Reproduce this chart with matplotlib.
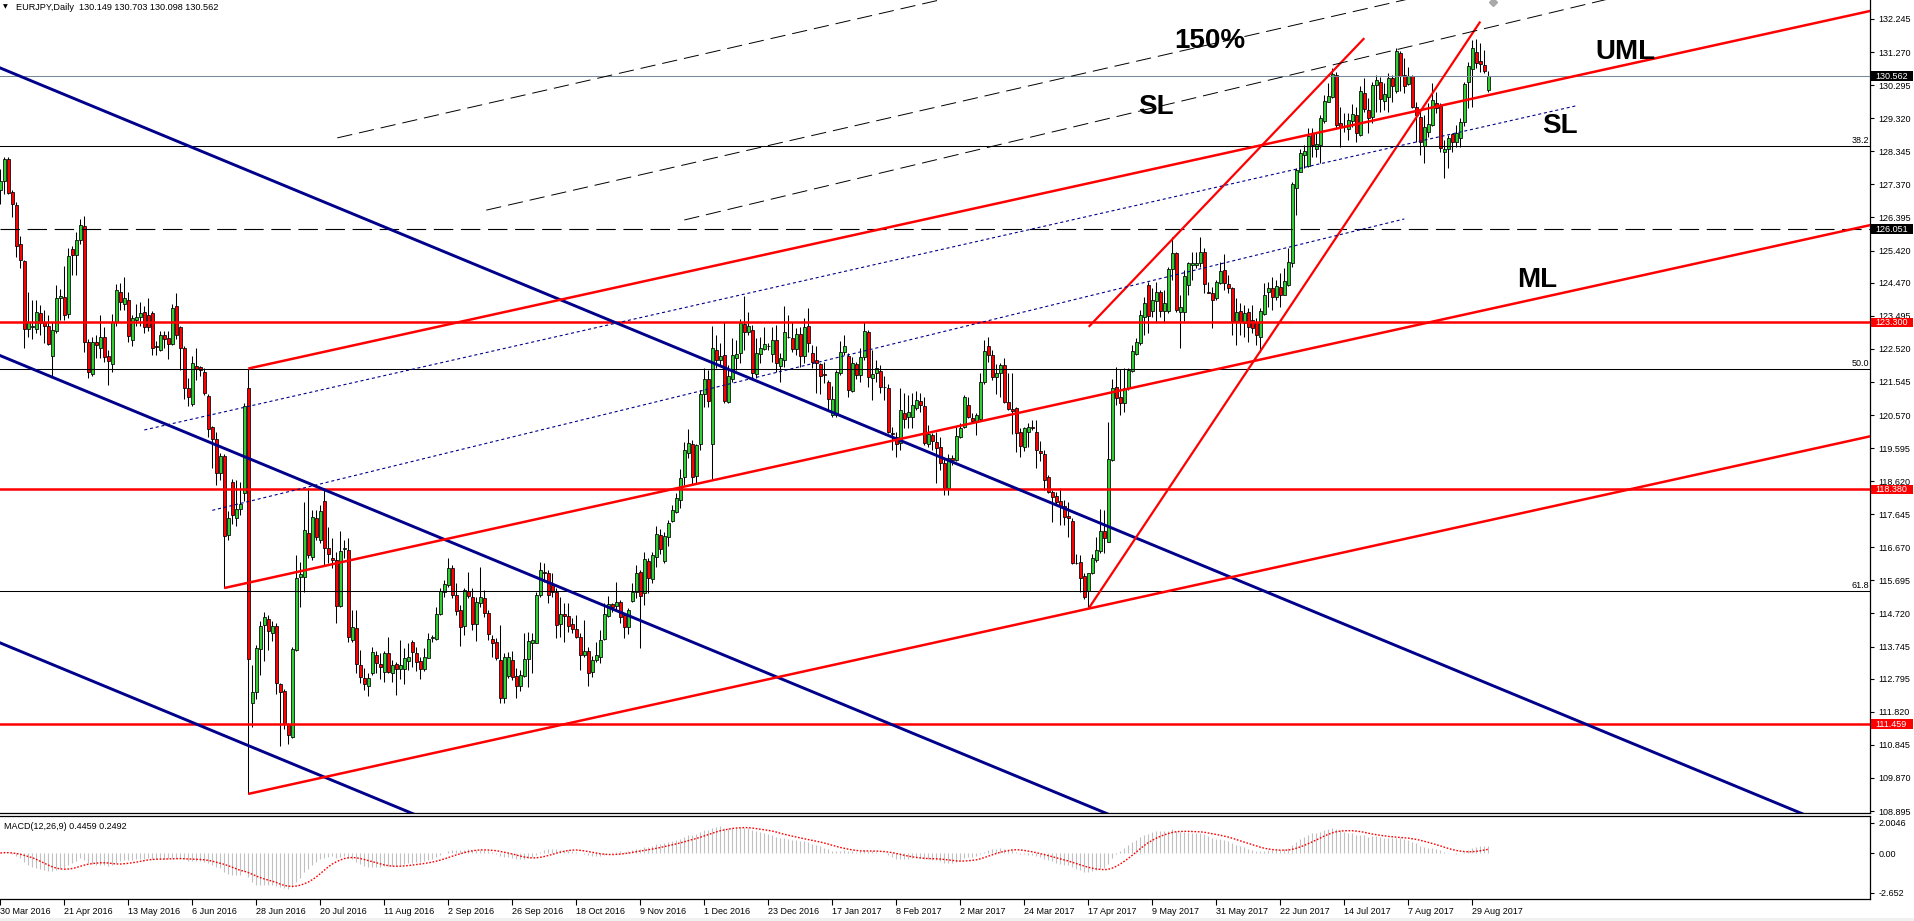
import numpy as np
import matplotlib
matplotlib.use("Agg")
import matplotlib.pyplot as plt
from matplotlib.transforms import blended_transform_factory
from matplotlib.patches import Rectangle

plt.rcParams['font.family'] = ['Liberation Sans', 'DejaVu Sans']
plt.rcParams['lines.scale_dashes'] = False

symbol_title = "EURJPY,Daily  130.149 130.703 130.098 130.562"
macd_title = "MACD(12,26,9) 0.4459 0.2492"

date_labels = ["30 Mar 2016", "21 Apr 2016", "13 May 2016", "6 Jun 2016", "28 Jun 2016",
               "20 Jul 2016", "11 Aug 2016", "2 Sep 2016", "26 Sep 2016", "18 Oct 2016",
               "9 Nov 2016", "1 Dec 2016", "23 Dec 2016", "17 Jan 2017", "8 Feb 2017",
               "2 Mar 2017", "24 Mar 2017", "17 Apr 2017", "9 May 2017", "31 May 2017",
               "22 Jun 2017", "14 Jul 2017", "7 Aug 2017", "29 Aug 2017"]

opens = [
    127.21,127.46,128.13,127.15,126.76,125.60,125.11,123.11,123.15,123.11,
    123.57,123.30,123.18,122.32,123.05,124.03,124.06,123.54,125.47,125.28,
    125.74,126.15,122.72,121.77,122.72,122.56,122.88,122.32,122.07,123.30,
    124.19,123.85,123.95,122.77,123.38,123.45,123.60,123.52,123.57,122.60,
    122.50,122.93,122.85,122.66,123.79,123.15,122.56,121.38,120.89,122.01,
    121.98,121.83,121.12,120.21,119.85,118.87,119.36,117.03,118.59,117.52,
    117.79,118.28,121.37,112.07,112.39,113.66,114.37,114.55,114.15,114.34,
    112.63,112.44,111.46,111.09,113.63,115.80,115.80,117.08,116.39,117.52,
    116.90,118.03,116.64,116.34,116.31,114.95,116.61,116.59,113.94,114.28,
    113.20,112.83,112.58,112.95,113.49,113.22,112.98,113.54,112.95,113.22,
    113.08,113.07,113.33,113.87,113.54,113.33,113.08,113.42,113.99,113.97,
    114.70,115.36,115.56,116.07,115.26,114.82,114.35,115.38,115.21,114.41,
    115.04,115.17,114.74,113.97,113.88,113.35,112.24,112.88,113.35,112.88,
    112.59,112.88,113.37,113.84,113.86,115.26,115.93,115.90,115.56,115.36,
    114.40,114.70,114.64,114.40,114.25,114.02,113.49,113.61,112.98,113.35,
    113.45,113.96,114.65,114.99,114.94,115.07,114.67,114.33,115.09,115.36,
    115.95,115.31,116.27,115.73,116.37,117.03,116.28,116.96,117.46,117.72,
    118.05,118.75,119.46,119.73,118.77,119.71,121.18,121.63,119.71,122.49,
    122.19,122.34,120.96,121.62,122.24,122.39,123.25,123.03,123.08,121.78,
    122.36,122.51,122.61,122.36,122.78,122.02,122.19,122.86,122.83,122.51,
    122.95,122.31,123.19,122.39,122.19,122.07,121.77,121.55,120.57,120.57,
    121.80,122.42,122.32,121.28,122.06,121.75,122.29,123.01,121.65,121.80,
    121.88,121.41,121.36,120.03,119.93,119.74,120.62,120.52,120.50,120.79,
    120.98,120.84,119.72,119.98,119.77,119.64,119.17,118.41,119.29,119.24,
    119.93,120.23,120.87,120.49,120.37,120.44,121.55,122.60,122.34,121.68,
    121.80,122.04,120.96,120.75,120.77,120.06,119.64,120.08,120.21,120.08,
    119.52,119.42,118.75,118.31,118.18,118.04,117.89,117.59,117.46,116.22,
    116.23,115.81,115.39,115.90,116.30,116.57,117.16,116.84,119.24,121.39,
    121.09,120.93,121.36,121.88,122.37,122.68,123.47,124.40,123.65,123.93,
    124.21,123.65,123.65,124.87,125.34,123.62,123.62,124.40,124.99,124.98,
    125.04,125.39,124.21,124.18,124.01,124.47,124.85,124.43,124.30,123.35,
    123.65,123.27,123.62,123.37,123.32,122.86,123.55,124.21,124.30,124.04,
    124.35,124.11,124.40,125.04,127.27,127.74,128.24,127.92,128.87,128.41,
    128.53,129.25,129.81,129.94,130.58,129.17,129.07,128.99,129.25,129.41,
    128.82,130.07,129.56,129.35,130.30,130.40,129.84,129.95,130.52,130.13,
    131.25,130.59,130.33,130.56,129.66,129.37,128.50,128.92,129.12,129.78,
    129.68,128.33,128.41,128.84,128.63,128.73,129.22,130.40,130.76,131.28,
    131.01,130.89,130.149]

highs = [
    127.82,128.19,128.17,127.21,126.85,125.84,125.13,124.21,123.97,123.97,
    123.81,123.67,123.52,123.30,124.40,124.28,124.95,125.50,125.56,125.96,
    126.36,126.45,122.80,122.87,122.93,123.52,123.15,122.50,123.54,124.44,
    124.46,124.64,124.21,123.52,123.85,123.91,123.79,124.03,123.64,122.75,
    123.05,123.05,123.05,123.85,124.18,123.20,122.60,121.65,122.32,122.56,
    122.01,121.95,121.19,120.26,120.06,119.44,119.41,117.73,118.67,118.65,
    118.59,120.91,121.94,113.21,113.78,114.49,114.76,114.67,114.49,114.43,
    112.66,112.50,111.50,113.73,116.45,116.25,118.02,118.41,117.77,117.77,
    117.92,118.41,117.26,116.95,116.54,117.16,116.88,116.93,114.82,114.82,
    113.64,113.10,112.95,113.74,113.62,113.54,113.62,114.04,113.35,113.30,
    113.94,113.69,113.84,113.94,113.74,113.43,113.69,114.13,114.08,114.92,
    115.46,115.71,116.34,116.15,115.61,114.97,115.46,115.93,115.46,115.21,
    116.08,115.41,114.82,114.08,114.01,114.38,113.54,113.59,113.62,113.10,
    113.05,114.15,114.18,114.13,115.36,116.25,116.22,116.00,115.90,115.46,
    115.21,115.02,115.02,114.58,114.67,114.13,114.53,113.72,113.46,113.89,
    114.23,115.02,115.22,115.04,115.66,115.11,114.72,114.87,115.61,116.15,
    116.00,116.54,116.35,116.54,117.31,117.20,117.13,117.48,117.92,118.26,
    118.97,119.78,120.16,119.83,119.73,121.31,121.95,121.90,123.19,122.93,
    122.68,123.32,122.05,122.83,122.78,123.40,124.08,123.62,123.22,122.83,
    122.86,123.17,122.68,123.17,123.22,122.39,123.78,123.52,123.32,123.13,
    123.17,123.42,123.72,122.63,122.59,122.09,122.14,121.60,121.42,121.90,
    122.76,122.93,122.39,122.29,122.14,122.54,123.32,123.08,122.49,122.19,
    122.03,121.72,121.48,120.21,120.08,121.36,121.21,121.16,121.21,121.28,
    121.21,121.11,120.28,120.03,120.08,119.93,119.26,119.42,119.39,120.25,
    120.33,121.16,121.11,120.62,120.62,121.80,122.78,122.88,122.49,122.06,
    122.11,122.26,121.82,121.80,120.82,120.18,120.23,120.33,120.42,120.42,
    119.79,119.54,118.80,118.36,118.31,118.41,118.06,118.02,117.52,116.47,
    116.44,115.90,115.92,116.47,116.98,117.79,117.77,120.37,121.63,121.99,
    121.92,121.95,121.95,122.63,122.83,123.67,124.06,124.50,124.30,124.50,
    124.26,124.26,124.94,125.81,125.39,124.11,124.85,125.09,125.39,125.39,
    125.83,125.48,124.50,124.35,124.55,125.09,125.32,124.70,124.33,124.01,
    123.86,123.81,123.72,123.81,123.42,123.72,124.47,124.50,124.65,124.55,
    124.75,124.89,125.48,127.45,127.84,128.40,128.53,129.02,129.02,128.87,
    129.41,130.00,130.35,130.79,130.69,129.64,129.46,129.46,129.74,129.66,
    130.27,130.50,129.91,130.40,130.59,130.54,130.35,130.64,130.59,131.40,
    131.31,131.09,130.84,130.59,129.81,129.56,129.41,129.76,130.37,130.10,
    129.76,128.68,128.82,128.87,129.12,129.32,130.40,130.99,131.63,131.65,
    131.55,131.33,130.703]

lows = [
    126.78,127.09,127.09,126.42,125.23,124.89,122.54,122.87,122.81,122.99,
    122.93,122.69,122.63,121.71,122.99,123.36,123.36,123.42,124.70,124.69,
    125.60,122.44,121.65,121.71,122.26,122.26,122.14,121.46,121.83,123.20,
    123.67,123.67,122.72,122.60,123.18,123.18,122.99,123.05,122.34,122.34,
    122.47,122.56,122.22,122.63,122.81,121.89,121.03,120.85,120.85,121.61,
    121.71,121.16,119.93,119.02,118.50,118.65,115.47,116.88,117.37,117.30,
    117.61,118.04,109.40,111.37,112.20,112.90,113.33,113.63,113.90,112.35,
    110.82,111.31,110.88,111.04,113.60,114.92,115.36,116.34,116.30,116.88,
    116.79,116.15,116.20,116.05,114.43,114.92,116.34,113.89,113.89,112.95,
    112.66,112.46,112.30,112.92,112.95,112.78,112.69,112.95,112.69,112.32,
    112.79,112.63,113.05,113.15,113.03,112.79,113.03,113.40,113.89,113.94,
    114.67,115.21,115.51,115.17,114.67,113.77,114.08,115.17,114.23,113.91,
    114.92,114.62,113.94,113.45,113.35,112.07,112.07,112.81,112.76,112.22,
    112.44,112.84,112.56,112.95,113.84,115.21,115.66,115.02,115.21,113.99,
    114.04,113.89,114.18,114.15,113.99,113.05,113.45,112.59,112.84,113.30,
    113.25,113.94,114.63,114.77,114.82,114.43,113.99,114.11,115.07,115.17,
    113.69,114.97,115.31,115.61,116.10,116.47,116.22,116.71,117.43,117.67,
    117.82,118.51,119.29,118.51,118.56,119.54,120.82,120.82,118.65,121.95,
    122.05,120.91,120.93,121.55,121.90,122.09,122.49,122.93,121.65,121.65,
    122.09,122.49,122.49,122.14,121.85,121.55,121.99,122.83,122.44,122.34,
    121.99,122.09,122.44,121.95,121.21,121.19,121.50,120.72,120.52,120.52,
    121.75,122.34,121.11,121.26,121.62,121.55,122.19,121.41,121.01,121.55,
    121.21,121.01,120.03,119.54,119.34,119.54,120.18,120.18,120.18,120.72,
    120.67,119.69,119.64,119.54,118.58,118.95,118.21,118.21,119.10,119.20,
    119.88,120.18,120.47,120.35,119.98,120.42,121.48,122.14,121.60,121.18,
    121.11,120.92,120.72,120.00,119.49,119.32,119.52,119.64,120.13,119.00,
    119.22,118.36,118.26,117.41,117.92,117.33,117.33,116.98,116.18,116.18,
    115.36,115.14,114.87,115.88,116.25,116.49,116.49,116.84,119.20,120.87,
    120.57,120.67,121.31,121.85,122.34,122.63,122.93,122.98,123.47,123.32,
    123.47,123.32,123.59,124.55,123.62,122.54,123.34,124.11,124.55,124.89,
    124.94,124.16,124.16,123.13,123.96,124.43,124.26,124.16,122.93,122.63,
    122.93,122.88,122.73,122.98,122.63,122.44,123.52,123.76,123.67,123.96,
    123.76,124.11,124.37,124.94,126.47,127.74,127.84,127.89,128.19,128.19,
    128.00,129.17,129.81,129.91,129.02,128.48,128.92,128.68,129.07,128.63,
    128.79,129.51,128.87,129.19,129.51,129.51,129.56,129.51,129.81,130.07,
    130.13,130.05,130.30,129.61,128.63,128.24,128.01,128.78,129.09,129.46,
    128.33,127.55,127.84,128.33,128.48,128.48,129.09,129.61,129.66,130.79,
    130.69,130.64,130.098]

closes = [
    127.46,128.13,127.11,126.78,125.56,125.13,123.11,123.30,123.20,123.60,
    123.27,123.18,122.65,123.09,124.01,124.08,123.52,125.26,125.28,125.74,
    126.17,122.72,121.83,122.72,122.63,122.87,122.29,122.17,123.30,124.25,
    123.89,124.01,122.89,123.42,123.45,123.59,123.15,123.15,122.54,122.58,
    122.93,122.81,122.66,123.73,122.93,122.54,121.38,121.10,122.11,121.93,
    121.89,121.22,120.15,119.87,118.87,119.36,117.00,117.52,117.61,117.79,
    117.95,120.85,113.39,112.39,113.70,114.34,114.61,114.19,114.34,112.68,
    112.41,111.46,111.13,113.66,115.77,115.87,117.18,116.44,117.55,116.96,
    117.74,116.64,116.46,116.31,114.94,116.56,116.64,114.04,114.31,113.22,
    112.86,112.63,112.83,113.58,113.25,113.15,113.54,112.98,113.20,113.08,
    113.20,113.40,113.44,113.57,113.30,113.08,113.43,113.96,114.02,114.70,
    115.39,115.59,116.07,115.26,114.80,114.33,115.41,115.24,114.40,115.07,
    115.21,114.74,114.10,113.86,113.40,112.24,113.44,113.44,112.84,112.59,
    112.92,113.38,113.91,113.94,115.26,116.00,115.90,115.26,115.36,114.38,
    114.70,114.64,114.35,114.25,114.04,113.49,113.61,112.95,113.35,113.49,
    113.94,114.69,114.99,114.92,115.07,114.63,114.33,114.82,115.36,115.90,
    115.24,116.32,115.76,116.44,117.05,116.61,117.01,117.38,117.77,118.11,
    118.70,119.54,119.75,118.75,119.69,121.18,121.63,120.99,122.54,122.19,
    122.31,120.99,121.72,122.34,122.37,123.27,123.03,123.19,121.80,122.41,
    122.54,122.65,122.59,122.78,122.09,122.24,123.01,122.88,122.51,122.95,
    122.31,123.15,122.68,122.14,122.09,121.72,121.74,121.03,121.03,121.85,
    122.44,122.59,121.31,122.11,121.75,122.29,123.06,121.68,121.78,121.95,
    121.41,121.39,120.08,120.00,119.72,120.72,120.44,120.67,120.87,121.01,
    120.87,119.74,120.01,119.79,119.59,119.15,118.41,119.29,119.24,119.95,
    120.18,121.11,120.52,120.40,120.57,121.54,122.46,122.34,121.70,121.80,
    122.04,120.96,120.74,120.69,120.05,119.66,120.18,120.23,120.18,119.54,
    119.44,118.64,118.31,118.16,118.02,117.89,117.57,117.52,116.22,116.20,
    115.76,115.20,115.90,116.35,116.59,117.16,116.94,119.26,121.36,121.06,
    120.92,121.36,121.90,122.47,122.73,123.52,123.88,123.49,123.96,124.19,
    123.65,123.88,124.87,125.34,123.67,123.75,124.67,125.04,125.04,125.06,
    125.39,124.43,124.18,123.96,124.50,124.83,124.47,124.30,123.35,123.60,
    123.32,123.57,123.17,123.13,122.93,123.64,124.11,124.30,124.06,124.37,
    124.11,124.53,125.07,127.37,127.79,128.30,128.35,128.79,128.53,128.56,
    129.32,129.84,129.97,130.62,129.12,129.05,129.05,129.27,129.44,128.89,
    130.13,129.58,129.32,130.30,130.45,129.88,130.02,130.52,130.27,131.31,
    130.56,130.27,130.56,129.66,129.41,128.63,129.07,129.15,129.86,129.63,
    128.43,128.41,128.75,128.63,128.87,129.22,130.32,130.86,131.38,130.96,
    130.92,130.72,130.562]

price_ticks = [132.245, 131.270, 130.295, 129.320, 128.345, 127.370, 126.395, 125.420,
               124.470, 123.495, 122.520, 121.545, 120.570, 119.595, 118.620, 117.645,
               116.670, 115.695, 114.720, 113.745, 112.795, 111.820, 110.845, 109.870, 108.895]
macd_ticks = [2.0046, 0.0, -2.652]
macd_tick_labels = ["2.0046", "0.00", "-2.652"]

current_price = 130.562
red_levels = [123.300, 118.380, 111.459]
dashed_level = 126.051
fib_levels = [128.50, 121.94, 115.37]
fib_names = ["38.2", "50.0", "61.8"]
price_boxes = [(130.562, "black"), (126.051, "black"), (123.300, "red"),
               (118.380, "red"), (111.459, "red")]

# drawn objects (bar index, price)
blue_channel_at0 = [130.80, 122.32, 113.85]
blue_channel_slope = -0.0488
red_fork_anchors = [(62, 121.94), (56, 115.47), (62, 109.40)]
red_fork_slope = 0.0260
steep_lines = [((272.1, 123.17), (341.0, 131.68)), ((272.1, 114.87), (370.0, 132.17))]
dotted_blue = [((36, 120.13), (393.75, 129.68)), ((53, 117.76), (351, 126.35))]
dashed_black = [((84.25, 128.74), 0.0270), ((121.5, 126.61), 0.0270), ((171, 126.32), 0.0282)]
big_labels = ["150%", "SL", "UML", "SL", "ML"]
big_label_pos = [(302.5, 131.60), (289, 129.65), (406.25, 131.27), (390, 129.09), (384.25, 124.55)]

assert len(opens) == len(highs) == len(lows) == len(closes)

W, H = 1915, 921
fig = plt.figure(figsize=(W / 100, H / 100), dpi=100)
fig.patch.set_facecolor("white")

RED = "#FF0000"
GREEN = "#32CD32"
NAVY = "#00008B"
FS = 6.5

ax = fig.add_axes([0, (H - 813) / H, 1870 / W, 813 / H])
ax2 = fig.add_axes([0, (H - 899) / H, 1870 / W, 83 / H])

n = len(closes)
idx = np.arange(n)
o = np.array(opens); hi = np.array(highs); lo = np.array(lows); c = np.array(closes)
up = c >= o

ax.set_xlim(-0.075, 467.425)
ax.set_ylim(108.837, 132.805)

# candles
ax.vlines(idx, lo, hi, color="black", lw=0.75, zorder=2)
bb = np.minimum(o, c)
bh = np.maximum(np.abs(c - o), 0.015)
ax.bar(idx[up], bh[up], bottom=bb[up], width=0.72, color=GREEN, edgecolor="black",
       linewidth=0.55, zorder=3)
ax.bar(idx[~up], bh[~up], bottom=bb[~up], width=0.72, color=RED, edgecolor="black",
       linewidth=0.55, zorder=3)

X0, X1 = -5, 475
# horizontal levels
ax.axhline(current_price, color="#778899", lw=0.75, zorder=4)
for lv in fib_levels:
    ax.axhline(lv, color="black", lw=0.75, zorder=4)
ax.axhline(dashed_level, color="black", lw=0.8, ls=(0, (14, 5.5)), zorder=4)
for lv in red_levels:
    ax.axhline(lv, color=RED, lw=1.8, zorder=4)
for lv, name in zip(fib_levels, fib_names):
    ax.text(467.15, lv + 0.03, name, ha="right", va="bottom", fontsize=FS, zorder=6)

# blue channel
for p0 in blue_channel_at0:
    ax.plot([X0, X1], [p0 + blue_channel_slope * X0, p0 + blue_channel_slope * X1],
            color=NAVY, lw=2.1, solid_capstyle="butt", zorder=5)

# red pitchfork
for (i0, p0) in red_fork_anchors:
    ax.plot([i0, X1], [p0, p0 + red_fork_slope * (X1 - i0)], color=RED, lw=1.8,
            solid_capstyle="butt", zorder=5)

for (a, b) in steep_lines:
    ax.plot([a[0], b[0]], [a[1], b[1]], color=RED, lw=1.6, solid_capstyle="butt", zorder=5)

for (a, b) in dotted_blue:
    ax.plot([a[0], b[0]], [a[1], b[1]], color=NAVY, lw=0.8, ls=(0, (2.2, 2.0)), zorder=5)

for (a, s) in dashed_black:
    i_end = a[0] + (133.0 - a[1]) / s
    ax.plot([a[0], i_end], [a[1], 133.0], color="black", lw=0.7, ls=(0, (11, 5)), zorder=5)

for txt, (xi, yp) in zip(big_labels, big_label_pos):
    ax.text(xi, yp, txt, ha="center", va="center", fontsize=20, fontweight="bold",
            color="black", zorder=7)

ax.plot([373.2], [132.75], marker="D", ms=4.5, color="#A9A9A9", zorder=6)

# axes styling
for s in ["left", "top"]:
    ax.spines[s].set_visible(False)
ax.spines["right"].set_linewidth(0.9)
ax.spines["bottom"].set_linewidth(0.9)
ax.yaxis.tick_right()
ax.set_yticks(price_ticks)
ax.set_yticklabels([f"{v:.3f}" for v in price_ticks])
ax.tick_params(axis="y", direction="out", length=3, width=0.8, pad=3, labelsize=FS)
ax.tick_params(axis="x", bottom=False, labelbottom=False)

trans = blended_transform_factory(ax.transAxes, ax.transData)
box_h = 9.5 / 33.92
for val, col in price_boxes:
    ax.add_patch(Rectangle((1871 / 1870, val - box_h / 2), 42 / 1870, box_h, transform=trans,
                           facecolor=col, edgecolor="none", clip_on=False, zorder=20))
    ax.text(1875 / 1870, val, f"{val:.3f}", transform=trans, ha="left", va="center",
            fontsize=FS, color="white", clip_on=False, zorder=21)

# MACD panel
def ema(vals, period):
    a = 2.0 / (period + 1)
    out = np.empty(len(vals))
    out[0] = vals[0]
    for k in range(1, len(vals)):
        out[k] = out[k - 1] + a * (vals[k] - out[k - 1])
    return out

macd = ema(c, 12) - ema(c, 26)
signal = np.array([macd[max(0, k - 8):k + 1].mean() for k in range(n)])

ax2.set_xlim(-0.075, 467.425)
ax2.set_ylim(-46 / 14.97, 37 / 14.97)
ax2.vlines(idx, 0, macd, color="#C0C0C0", lw=0.8, zorder=2)
ax2.plot(idx, signal, color=RED, lw=1.0, ls=(0, (1.2, 1.2)), zorder=3)
ax2.spines["left"].set_visible(False)
for s in ["right", "top", "bottom"]:
    ax2.spines[s].set_linewidth(0.9)
ax2.yaxis.tick_right()
ax2.set_yticks(macd_ticks)
ax2.set_yticklabels(macd_tick_labels)
ax2.tick_params(axis="y", direction="out", length=3, width=0.8, pad=3, labelsize=FS)
ax2.set_xticks(list(range(0, 16 * len(date_labels), 16)))
ax2.set_xticklabels(date_labels, ha="left")
ax2.tick_params(axis="x", direction="out", length=4, width=0.8, pad=1.5, labelsize=FS)
ax2.text(0.002, (899 - 826) / 83, macd_title, transform=ax2.transAxes, ha="left",
         va="center", fontsize=FS)

fig.text(16 / W, 1 - 7 / H, symbol_title, ha="left", va="center", fontsize=6.6)
fig.text(3 / W, 1 - 7 / H, "\u25BC", ha="left", va="center", fontsize=4.5,
         family="DejaVu Sans")
fig.patches.append(Rectangle((0, 0), 1, 3 / H, transform=fig.transFigure,
                             facecolor="#F0F0F0", edgecolor="none"))

fig.savefig("out.png", dpi=100)
